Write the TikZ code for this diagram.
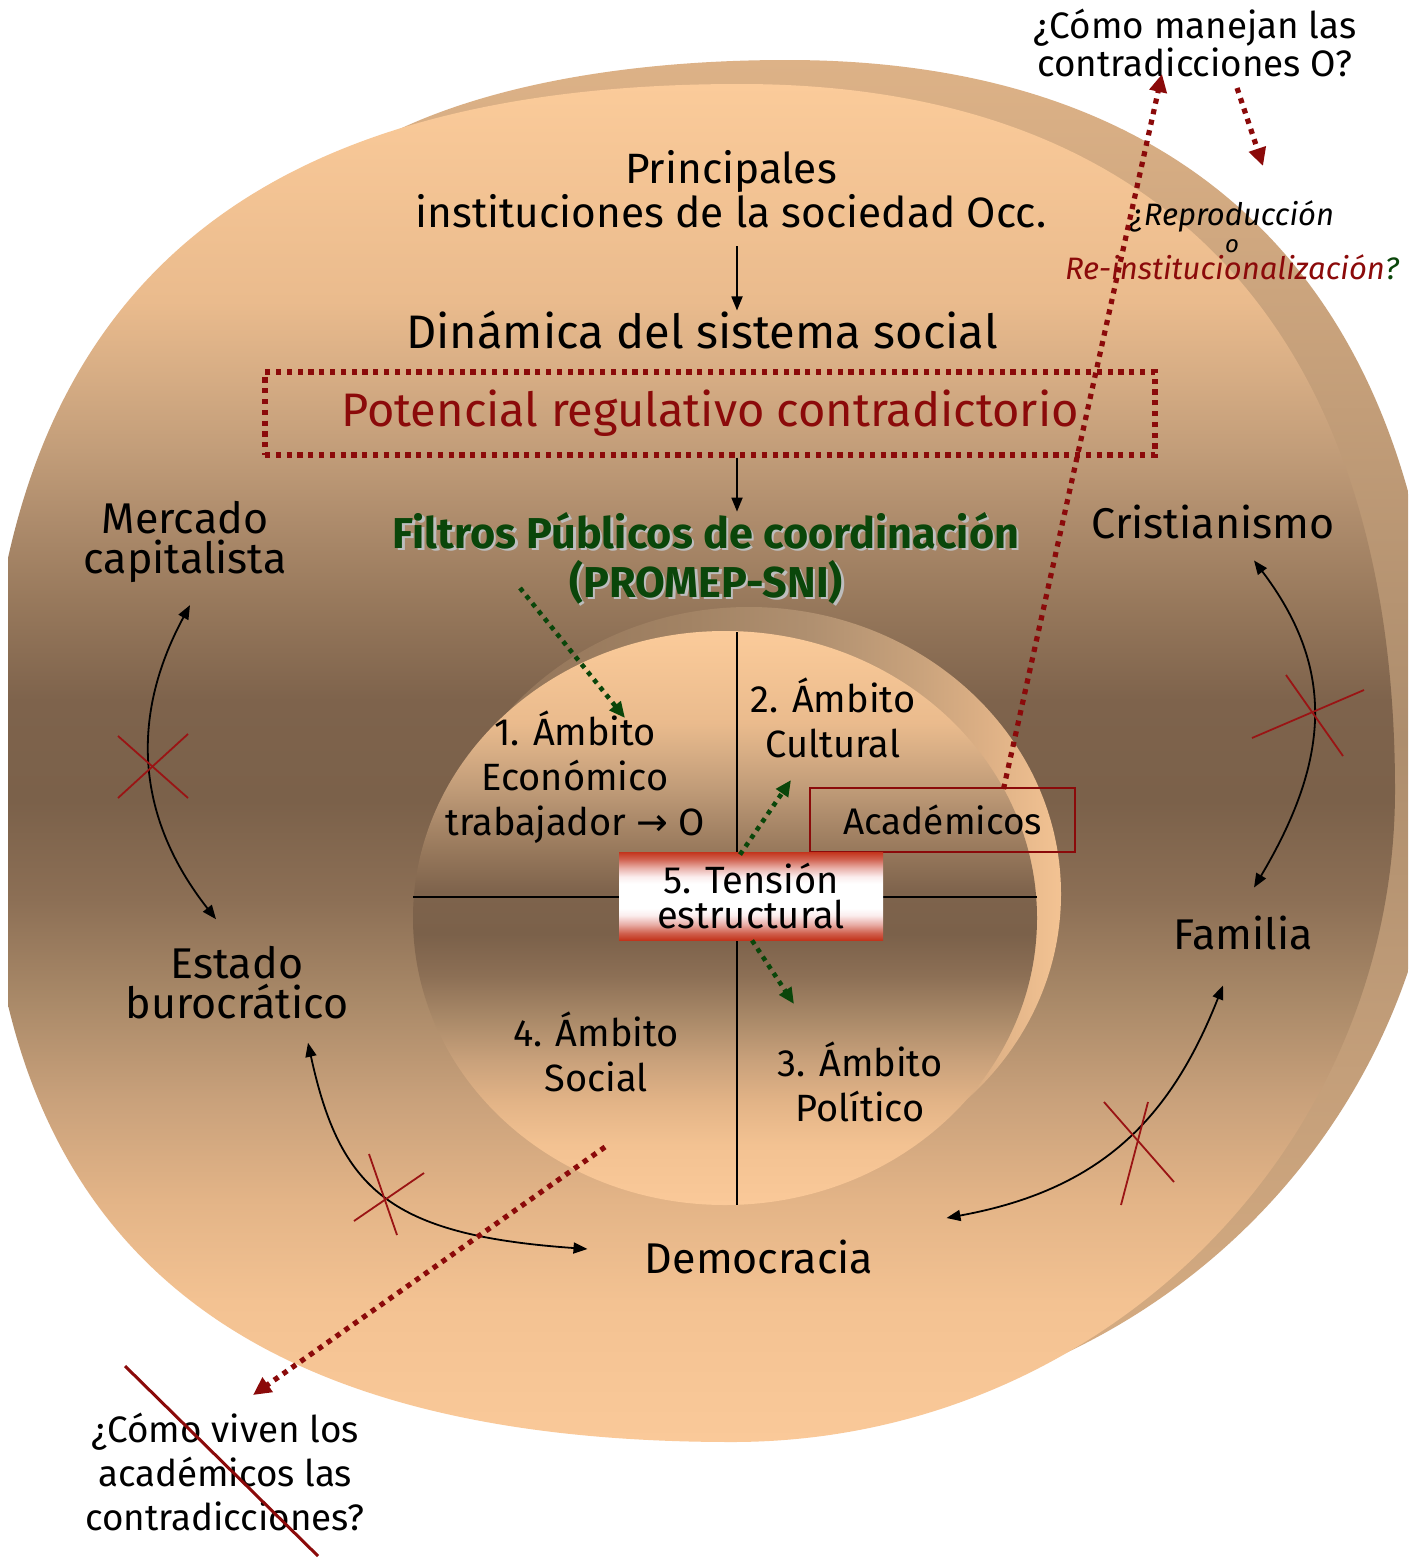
\documentclass[tikz,border=0pt]{standalone}
\usepackage{fontspec}
\setmainfont{Fira Sans}
\newfontfamily\arrowfont{DejaVu Sans}
\usetikzlibrary{arrows.meta,calc}

% palette
\definecolor{dred}{HTML}{8B0A0A}
\definecolor{dgreen}{HTML}{0A460A}
\definecolor{xred}{HTML}{9A1414}
\definecolor{shadowgray}{HTML}{BDBDBD}

% front face of the disc
\definecolor{fa}{HTML}{FAC999}
\definecolor{fb}{HTML}{F3C292}
\definecolor{fc}{HTML}{E3B487}
\definecolor{fd}{HTML}{C9A17B}
\definecolor{fe}{HTML}{A98968}
\definecolor{ff}{HTML}{8C6F55}
\definecolor{fg}{HTML}{7B614A}
\definecolor{fh}{HTML}{7E634C}
\definecolor{fi}{HTML}{98795C}
\definecolor{fj}{HTML}{AE8C6C}
\definecolor{fk}{HTML}{C29D79}
\definecolor{fl}{HTML}{D8AE85}
\definecolor{fm}{HTML}{EABB8D}
\definecolor{fn}{HTML}{FBCB9A}
\pgfdeclareverticalshading{facesh}{100bp}{color(0bp)=(fa); color(25bp)=(fa); color(30.2bp)=(fb);
  color(33.9bp)=(fc); color(37.6bp)=(fd); color(41.3bp)=(fe); color(45bp)=(ff); color(48.6bp)=(fg);
  color(52.3bp)=(fh); color(56bp)=(fi); color(59bp)=(fj); color(61.5bp)=(fk); color(64.5bp)=(fl);
  color(67bp)=(fm); color(75bp)=(fn); color(100bp)=(fn)}

% rim of the disc
\definecolor{sa}{HTML}{D9AE83}
\definecolor{sb}{HTML}{C09C78}
\definecolor{sc}{HTML}{AD8D6D}
\definecolor{sd}{HTML}{BE9A76}
\definecolor{se}{HTML}{DDB287}
\pgfdeclareverticalshading{shellsh}{100bp}{color(0bp)=(sa); color(25bp)=(sa); color(40bp)=(sb);
  color(50bp)=(sc); color(60bp)=(sd); color(75bp)=(se); color(100bp)=(se)}

% inner wall of the hole
\definecolor{wa}{HTML}{8E7056}
\definecolor{wb}{HTML}{A28364}
\definecolor{wc}{HTML}{B09070}
\definecolor{wd}{HTML}{C7A17B}
\definecolor{we}{HTML}{DDB085}
\definecolor{wf}{HTML}{F3C393}
\pgfdeclarehorizontalshading{wallsh}{100bp}{color(0bp)=(wa); color(25bp)=(wa); color(45bp)=(wb);
  color(55bp)=(wc); color(63bp)=(wd); color(69bp)=(we); color(75bp)=(wf); color(100bp)=(wf)}

% red-white-red band
\definecolor{ta}{HTML}{C3341C}
\definecolor{tb}{HTML}{D0614F}
\definecolor{tc}{HTML}{E9AFA8}
\definecolor{td}{HTML}{FBEDED}
\pgfdeclareverticalshading{tensh}{100bp}{color(0bp)=(ta); color(25bp)=(ta); color(29bp)=(tb);
  color(34bp)=(tc); color(39bp)=(td); color(43bp)=(white); color(57bp)=(white); color(61bp)=(td);
  color(66bp)=(tc); color(71bp)=(tb); color(75bp)=(ta); color(100bp)=(ta)}

\tikzset{
  lbl/.style={align=center, inner sep=0pt, font=\fontsize{21.5}{20}\selectfont},
  amb/.style={align=center, inner sep=0pt, font=\fontsize{19}{22.5}\selectfont},
  quest/.style={align=center, inner sep=0pt, font=\fontsize{18.4}{17.5}\selectfont},
  blk/.style={draw=black, line width=0.9pt, -{Triangle[length=7pt,width=5.5pt]}},
  blktwo/.style={draw=black, line width=0.9pt, {Triangle[length=7pt,width=5.5pt]}-{Triangle[length=7pt,width=5.5pt]}},
  rdots/.style={draw=dred, line width=2.6pt, dash pattern=on 2.6pt off 2.8pt, -{Triangle[length=9pt,width=8.5pt]}},
  gdots/.style={draw=dgreen, line width=2.3pt, dash pattern=on 2.3pt off 2.6pt, -{Triangle[length=8pt,width=7pt]}},
  xmark/.style={draw=xred, line width=0.9pt},
  qline/.style={draw=black, line width=0.8pt},
}

\begin{document}
\begin{tikzpicture}[x=0.5pt,y=-0.5pt]
\useasboundingbox (0,0) rectangle (1422,1558);
\fill[white] (0,0) rectangle (1422,1558);

% ---- the disc ----
\begin{scope}
  \clip (8,0) rectangle (1408,1558);
  % rim seen behind the front face (its hidden part closes through the inside)
  \shade[shading=shellsh] (330,170) .. controls (430,95) and (600,60) .. (787,60)
    .. controls (1217,60) and (1442,315) .. (1442,765)
    .. controls (1442,1125) and (1145,1417) .. (779,1417)
    -- (700,800) -- cycle;
  % front face
  \shade[shading=facesh] (740,84) .. controls (226,84) and (-15,310) .. (-15,790)
    .. controls (-15,1233) and (224,1442) .. (732,1442)
    .. controls (1098,1442) and (1395,1150) .. (1395,790)
    .. controls (1395,340) and (1170,84) .. (740,84) -- cycle;
  % the hole: inner wall, then its floor
  \shade[shading=wallsh] (749,894) ellipse [x radius=312, y radius=287];
  \shade[shading=facesh] (725,918) ellipse [x radius=312, y radius=287];
\end{scope}

% quadrants
\draw[qline] (737,632) -- (737,1205);
\draw[qline] (413,897) -- (1037,897);

% ---- texts ----
\node[quest] (q1) at (1195,43) {¿Cómo manejan las\\contradicciones O?};
\node[align=center, inner sep=0pt, font=\itshape\fontsize{15.5}{13.5}\selectfont] (q2) at (1232,240)
  {¿Reproducción\\{\fontsize{12}{12}\selectfont o}\\\textcolor{dred}{Re-institucionalización}\textcolor{dgreen}{?}};
\node[align=center, inner sep=0pt, font=\fontsize{21.2}{22}\selectfont] (princ) at (731,189)
  {Principales\\instituciones de la sociedad Occ.};
\node[inner sep=0pt, font=\fontsize{23.5}{23.5}\selectfont] (dyn) at (702,330) {Dinámica del sistema social};
\node[draw=dred, line width=2.6pt, dash pattern=on 2.6pt off 2.8pt, minimum width=445pt, minimum height=41.5pt,
  inner sep=0pt, text=dred, font=\fontsize{23.5}{23.5}\selectfont] (pot) at (710,413.5) {Potencial regulativo contradictorio};
\node[align=center, inner sep=0pt, text=shadowgray, font=\bfseries\fontsize{21.6}{24.5}\selectfont] (filtsh) at (708.5,560.5)
  {Filtros Públicos de coordinación\\(PROMEP-SNI)};
\node[align=center, inner sep=0pt, text=dgreen, font=\bfseries\fontsize{21.6}{24.5}\selectfont] (filt) at (706,558)
  {Filtros Públicos de coordinación\\(PROMEP-SNI)};

\node[lbl] (merc) at (185,542) {Mercado\\capitalista};
\node[lbl] (crist) at (1213,522) {Cristianismo};
\node[lbl] (estado) at (237,983) {Estado\\burocrático};
\node[lbl] (fam) at (1243,933) {Familia};
\node[lbl] (demo) at (759,1257) {Democracia};

\node[amb] (amb1) at (575,777) {1. Ámbito\\Económico\\trabajador {\arrowfont→} O};
\node[amb] (amb2) at (833,718) {2. Ámbito\\Cultural};
\node[amb] (amb4) at (596,1052) {4. Ámbito\\Social};
\node[amb] (amb3) at (860,1082) {3. Ámbito\\Político};

\node[draw=dred, line width=1pt, minimum width=132.5pt, minimum height=32pt, inner sep=0pt,
  font=\fontsize{18.5}{18.5}\selectfont] (acad) at (942.5,820) {Académicos};
\node[shading=tensh, minimum width=132pt, minimum height=44pt, inner sep=0pt, align=center,
  font=\fontsize{19}{17.5}\selectfont] (tens) at (751,896) {5. Tensión\\estructural};

\node[align=center, inner sep=0pt, font=\fontsize{18.4}{22}\selectfont] (q3) at (225,1472)
  {¿Cómo viven los\\académicos las\\contradicciones?};

% ---- flow along the centre axis ----
\coordinate (axis) at (737,0);
\draw[blk] (princ.south -| axis) ++(0,18) -- (dyn.north -| axis);
\draw[blk] (pot.south -| axis) -- (filt.north -| axis);

% ---- relations between the institutions ----
\draw[blktwo] ([shift={(5,22)}]merc.south) .. controls (128,720) and (138,820) .. ([shift={(-21,-27)}]estado.north);
\draw[blktwo] ([shift={(41,21)}]crist.south) .. controls (1333,665) and (1333,755) .. ([shift={(11,-28)}]fam.north);
\draw[blktwo] ([shift={(71,23)}]estado.south) .. controls (340,1190) and (390,1235) .. ([shift={(-57,-8)}]demo.west);
\draw[blktwo] ([shift={(73,-39)}]demo.east) .. controls (1100,1190) and (1170,1120) .. ([shift={(-20,35)}]fam.south);

% broken links
\draw[xmark] (118,736) -- (188,798);
\draw[xmark] (118,798) -- (188,734);
\draw[xmark] (1286,675) -- (1343,756);
\draw[xmark] (1252,738) -- (1364,690);
\draw[xmark] (369,1154) -- (397,1235);
\draw[xmark] (354,1221) -- (424,1173);
\draw[xmark] (1104,1102) -- (1174,1182);
\draw[xmark] (1148,1102) -- (1121,1205);

% ---- filters acting on the quadrants ----
\coordinate (g1s) at (520,588);
\coordinate (g1e) at (625,718);
\coordinate (g2e) at (791,780);
\coordinate (g3e) at (794,1004);
\draw[gdots] (g1s) -- (g1e);
\draw[gdots] ([shift={(-11,3)}]tens.north) -- (g2e);
\draw[gdots] ([shift={(1,0)}]tens.south) -- (g3e);

% ---- questions ----
\coordinate (r1e) at (1162,74);
\coordinate (r2s) at (1237,88);
\coordinate (r2e) at (1263,166);
\coordinate (r3s) at (605,1147);
\coordinate (r3e) at (253,1395);
\draw[rdots] ([shift={(61,2)}]acad.north) -- (r1e);
\draw[rdots] (r2s) -- (r2e);
\draw[rdots] (r3s) -- (r3e);

% crossed-out question
\draw[draw=dred, line width=1.5pt] (125,1366) -- (318,1556);
\end{tikzpicture}
\end{document}
